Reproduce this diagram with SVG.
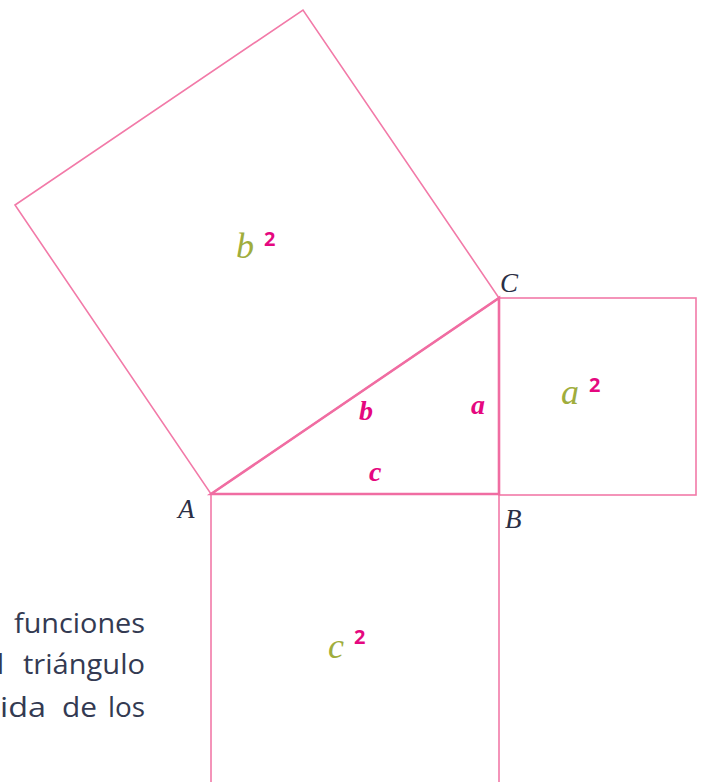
<svg xmlns="http://www.w3.org/2000/svg" width="704" height="782" viewBox="0 0 704 782">
<style>
.sq{fill:none;stroke:#f27aa8;stroke-width:1.6;stroke-linejoin:miter}
.tri{fill:none;stroke:#f06da2;stroke-width:2.6;stroke-linejoin:miter}
.pt{font-family:"Liberation Serif",serif;font-style:italic;font-size:27px;fill:#2b2f45}
.side{font-family:"Liberation Serif",serif;font-style:italic;font-weight:bold;font-size:28px;fill:#e5087f}
.var{font-family:"Liberation Serif",serif;font-style:italic;font-size:36px;fill:#a0ad3c}
.exp{font-family:"Open Sans","Liberation Sans",sans-serif;font-weight:bold;font-size:20px;fill:#e5087f}
.body{font-family:"Open Sans","Liberation Sans",sans-serif;font-size:28px;fill:#333a52}
</style>
<rect width="704" height="782" fill="#ffffff"/>
<g id="square-b">
<polygon class="sq" points="211,494 499,298 303,10 15,205"/>
<text class="var" x="236" y="258">b</text><text class="exp" x="264" y="246">2</text>
</g>
<g id="square-a">
<rect class="sq" x="499" y="298" width="197" height="197"/>
<text class="var" x="561" y="404">a</text><text class="exp" x="589" y="392">2</text>
</g>
<g id="square-c">
<polyline class="sq" points="211,785 211,494 499,494 499,785"/>
<text class="var" x="328" y="658">c</text><text class="exp" x="354" y="644">2</text>
</g>
<g id="triangle">
<polygon class="tri" points="211,494 499,298 499,494"/>
<text class="side" x="359" y="420">b</text>
<text class="side" x="471" y="414">a</text>
<text class="side" x="369" y="481">c</text>
</g>
<g id="labels">
<text class="pt" x="500" y="292">C</text>
<text class="pt" x="178" y="518">A</text>
<text class="pt" x="505" y="528">B</text>
</g>
<g id="body-text">
<text class="body" x="14" y="633" textLength="131" lengthAdjust="spacingAndGlyphs">funciones</text>
<text class="body" x="-3" y="674">l</text>
<text class="body" x="23" y="674" textLength="122" lengthAdjust="spacingAndGlyphs">triángulo</text>
<text class="body" x="0" y="717" textLength="46" lengthAdjust="spacingAndGlyphs">ida</text>
<text class="body" x="62" y="717" textLength="35" lengthAdjust="spacingAndGlyphs">de</text>
<text class="body" x="108" y="717" textLength="37" lengthAdjust="spacingAndGlyphs">los</text>
</g>
</svg>
